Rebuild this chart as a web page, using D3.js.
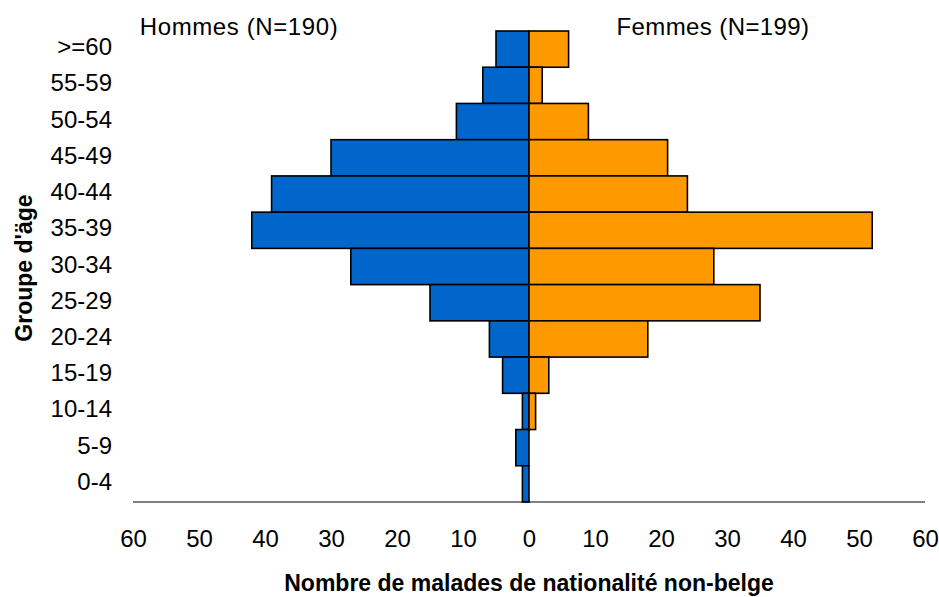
<!DOCTYPE html>
<html>
<head>
<meta charset="utf-8">
<script src="https://cdn.jsdelivr.net/npm/d3@7/dist/d3.min.js"></script>
<style>
  html, body { margin: 0; padding: 0; background: #fff; }
  svg { display: block; font-family: "Liberation Sans", Arial, sans-serif; }
</style>
</head>
<body>
<svg id="chart" width="939" height="597"></svg>
<script>
// Age groups, top to bottom
const ageGroups = [">=60", "55-59", "50-54", "45-49", "40-44", "35-39", "30-34", "25-29", "20-24", "15-19", "10-14", "5-9", "0-4"];
// Men (Hommes, N=190)
const menValues = [5, 7, 11, 30, 39, 42, 27, 15, 6, 4, 1, 2, 1];
// Women (Femmes, N=199)
const womenValues = [6, 2, 9, 21, 24, 52, 28, 35, 18, 3, 1, 0, 0];
const leftTicks = [60, 50, 40, 30, 20, 10];
const rightTicks = [0, 10, 20, 30, 40, 50, 60];
const menLabel = "Hommes (N=190)";
const womenLabel = "Femmes (N=199)";
const xTitle = "Nombre de malades de nationalité non-belge";
const yTitle = "Groupe d'äge";

const svg = d3.select("#chart");
const xMax = 60;
const x0 = 529, xLeftEnd = 133, xRightEnd = 925;
const yTop = 31, yBottom = 502;

const xLeft = d3.scaleLinear().domain([0, xMax]).range([x0, xLeftEnd]);
const xRight = d3.scaleLinear().domain([0, xMax]).range([x0, xRightEnd]);
const y = d3.scaleBand().domain(ageGroups).range([yTop, yBottom]).padding(0);

const menData = ageGroups.map((g, i) => ({ g, v: menValues[i] }));
const womenData = ageGroups.map((g, i) => ({ g, v: womenValues[i] }));

// Men bars
svg.append("g").selectAll("rect")
  .data(menData.filter(d => d.v > 0))
  .join("rect")
  .attr("x", d => xLeft(d.v))
  .attr("y", d => y(d.g))
  .attr("width", d => xLeft(0) - xLeft(d.v))
  .attr("height", y.bandwidth())
  .attr("fill", "#0066CC")
  .attr("stroke", "#000")
  .attr("stroke-width", 1.6);

// Women bars
svg.append("g").selectAll("rect")
  .data(womenData.filter(d => d.v > 0))
  .join("rect")
  .attr("x", xRight(0))
  .attr("y", d => y(d.g))
  .attr("width", d => xRight(d.v) - xRight(0))
  .attr("height", y.bandwidth())
  .attr("fill", "#FF9900")
  .attr("stroke", "#000")
  .attr("stroke-width", 1.6);

// Axis baseline
svg.append("line")
  .attr("x1", xLeftEnd).attr("x2", xRightEnd)
  .attr("y1", yBottom).attr("y2", yBottom)
  .attr("stroke", "#000").attr("stroke-width", 1.2);

// X axes
function styleAxis(g) {
  g.select(".domain").remove();
  g.selectAll(".tick line").remove();
  g.selectAll(".tick text")
    .attr("font-family", "\"Liberation Sans\", Arial, sans-serif")
    .attr("font-size", 24)
    .attr("fill", "#000");
}
svg.append("g")
  .attr("transform", `translate(0,${yBottom})`)
  .call(d3.axisBottom(xLeft).tickValues(leftTicks).tickSize(0).tickPadding(28).tickFormat(d3.format("d")))
  .call(styleAxis);
svg.append("g")
  .attr("transform", `translate(0,${yBottom})`)
  .call(d3.axisBottom(xRight).tickValues(rightTicks).tickSize(0).tickPadding(28).tickFormat(d3.format("d")))
  .call(styleAxis);

// Y axis labels (categories)
const yAxis = svg.append("g")
  .attr("transform", `translate(112,0)`)
  .call(d3.axisLeft(y).tickSize(0).tickPadding(0));
yAxis.select(".domain").remove();
yAxis.selectAll(".tick text")
  .attr("font-family", "\"Liberation Sans\", Arial, sans-serif")
  .attr("font-size", 24)
  .attr("fill", "#000")
  .attr("dy", "0.25em");

// Group headers
svg.append("text")
  .attr("x", 239).attr("y", 35)
  .attr("text-anchor", "middle")
  .attr("font-size", 24)
  .attr("letter-spacing", 0.6)
  .text(menLabel);
svg.append("text")
  .attr("x", 713).attr("y", 35)
  .attr("text-anchor", "middle")
  .attr("font-size", 24)
  .attr("letter-spacing", 0.4)
  .text(womenLabel);

// Axis titles
svg.append("text")
  .attr("x", 529).attr("y", 591)
  .attr("text-anchor", "middle")
  .attr("font-size", 23)
  .attr("font-weight", "bold")
  .text(xTitle);

svg.append("text")
  .attr("transform", "translate(32,268) rotate(-90)")
  .attr("text-anchor", "middle")
  .attr("font-size", 23)
  .attr("font-weight", "bold")
  .text(yTitle);
</script>
</body>
</html>
